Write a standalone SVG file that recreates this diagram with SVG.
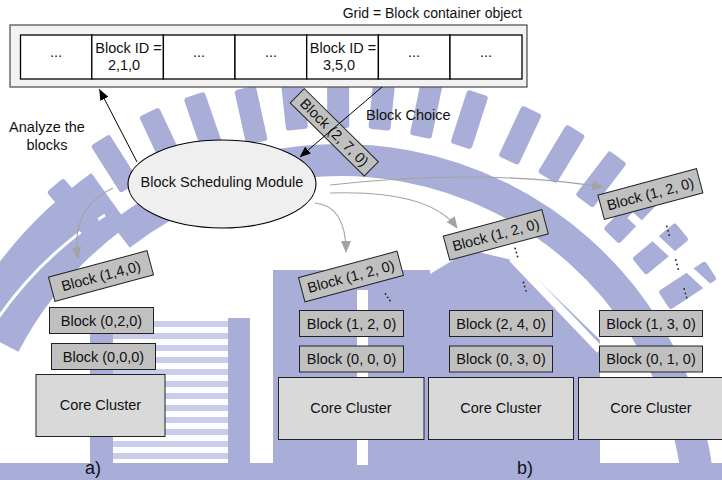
<svg xmlns="http://www.w3.org/2000/svg" width="722" height="480" viewBox="0 0 722 480">
<style>
text{font-family:"Liberation Sans",Arial,sans-serif;font-size:14.5px;fill:#111}
.c{text-anchor:middle}
.blk{fill:#c0c0c0;stroke:#222;stroke-width:1}
.core{fill:#d9d9d9;stroke:#222;stroke-width:1}
.cell{fill:#fff;stroke:#000;stroke-width:1.3}
.g{fill:none;stroke:#a3a3a3;stroke-width:1.1}
.k{fill:none;stroke:#000;stroke-width:1}
.dot{fill:#222}
.wm{fill:#a8aed8}
.wl{fill:#c9cdea}
.tooth{fill:#a8aed8}
</style>
<defs>
<marker id="ga" viewBox="0 0 12 10" refX="11" refY="5" markerWidth="12" markerHeight="10" markerUnits="userSpaceOnUse" orient="auto"><path d="M0,0 L12,5 L0,10 Z" fill="#a3a3a3"/></marker>
<marker id="ka" viewBox="0 0 11 9" refX="10.5" refY="4.5" markerWidth="11" markerHeight="9" markerUnits="userSpaceOnUse" orient="auto"><path d="M0,0 L11,4.5 L0,9 Z" fill="#000"/></marker>
<rect id="tt" x="-11" y="0" width="22" height="56" rx="3"/>
</defs>
<rect width="722" height="480" fill="#fff"/>

<g id="watermark">
<path d="M120,235 A360,360 0 0 1 700,520" fill="none" stroke="#a8aed8" stroke-width="32"/>
<path d="M-10,337 A395,395 0 0 1 110,199" fill="none" stroke="#a8aed8" stroke-width="64"/>
<path d="M-10,330 A385,385 0 0 1 105,215" fill="none" stroke="#fff" stroke-width="3"/>
<g class="tooth">
<use href="#tt" transform="translate(55,185) rotate(-40.4)"/>
<use href="#tt" transform="translate(100,140) rotate(-32.3)"/>
<use href="#tt" transform="translate(149,112) rotate(-25.1)"/>
<use href="#tt" transform="translate(194,95) rotate(-19)"/>
<use href="#tt" transform="translate(245,88) rotate(-12.4)"/>
<use href="#tt" transform="translate(291,74) rotate(-6.3)"/>
<use href="#tt" transform="translate(338,72) rotate(-0.3)"/>
<use href="#tt" transform="translate(385,74) rotate(5.8)"/>
<use href="#tt" transform="translate(432,82) rotate(11.8)"/>
<use href="#tt" transform="translate(478,93) rotate(17.9)"/>
<use href="#tt" transform="translate(532,110) rotate(25.1)"/>
<use href="#tt" transform="translate(576,130) rotate(31.2)"/>
<use href="#tt" transform="translate(618,157) rotate(37.4)"/>
<use href="#tt" transform="translate(650,196) rotate(43.9)"/>
<use href="#tt" transform="translate(682,231) rotate(50.3)"/>
<use href="#tt" transform="translate(711,270) rotate(56.8)"/>
</g>
<rect class="wm" x="90" y="318" width="23" height="162"/>
<rect class="wm" x="228" y="318" width="22" height="162"/>
<g class="wl">
<rect x="113" y="321" width="115" height="6"/>
<rect x="113" y="333" width="115" height="6"/>
<rect x="113" y="345" width="115" height="6"/>
<rect x="113" y="357" width="115" height="6"/>
<rect x="113" y="369" width="115" height="6"/>
<rect x="113" y="381" width="115" height="6"/>
<rect x="113" y="393" width="115" height="6"/>
<rect x="113" y="405" width="115" height="6"/>
<rect x="113" y="417" width="115" height="6"/>
<rect x="113" y="429" width="115" height="6"/>
<rect x="113" y="441" width="115" height="6"/>
<rect x="113" y="453" width="115" height="6"/>
</g>
<rect class="wm" x="0" y="463" width="722" height="17"/>
<rect class="wm" x="273" y="270" width="157" height="210"/>
<rect x="357" y="290" width="11" height="175" fill="#fff"/>
<path class="wm" d="M420,280 L470,250 L520,262 L600,340 L600,480 L420,480 Z"/>
<path d="M512,258 L600,350" stroke="#fff" stroke-width="8"/>
<path d="M630,215 L722,300" stroke="#fff" stroke-width="8"/>
</g>

<g id="grid-label"><text x="522" y="18" style="text-anchor:end;font-size:14px">Grid = Block container object</text></g>

<g id="grid">
<rect x="10" y="25" width="517" height="62" fill="#f2f2f2" stroke="#555" stroke-width="1.3"/>
<rect class="cell" x="20.5" y="35" width="71.3" height="44"/>
<rect class="cell" x="91.8" y="35" width="71.6" height="44"/>
<rect class="cell" x="163.4" y="35" width="71.6" height="44"/>
<rect class="cell" x="235" y="35" width="71.7" height="44"/>
<rect class="cell" x="306.7" y="35" width="71.7" height="44"/>
<rect class="cell" x="378.4" y="35" width="71.6" height="44"/>
<rect class="cell" x="450" y="35" width="72" height="44"/>
<text class="c" x="56" y="57">...</text>
<text class="c" x="128.5" y="53">Block ID =</text>
<text class="c" x="124" y="70">2,1,0</text>
<text class="c" x="199" y="57">...</text>
<text class="c" x="271" y="57">...</text>
<text class="c" x="343" y="53">Block ID =</text>
<text class="c" x="339" y="70">3,5,0</text>
<text class="c" x="414" y="57">...</text>
<text class="c" x="486" y="57">...</text>
</g>

<g id="analyze-label"><text class="c" x="47" y="132">Analyze the</text><text class="c" x="47" y="150">blocks</text></g>
<g id="choice-label"><text x="366" y="120">Block Choice</text></g>

<g id="module">
<ellipse cx="222" cy="184" rx="94" ry="44" fill="#efefef" stroke="#000" stroke-width="1.1"/>
<text class="c" x="222" y="187">Block Scheduling Module</text>
</g>

<g id="block-270" transform="translate(334.3,132.3) rotate(44.6)">
<rect class="blk" x="-52" y="-10" width="104" height="20"/>
<text class="c" x="0" y="5">Block (2, 7, 0)</text>
</g>

<g id="a-col">
<g id="a-b140" transform="translate(101,276) rotate(-15)"><rect class="blk" x="-51" y="-12.5" width="102" height="25"/><text class="c" x="0" y="5">Block (1,4,0)</text></g>
<g id="a-b020"><rect class="blk" x="49.5" y="307.5" width="104" height="26"/><text class="c" x="101.5" y="325.5">Block (0,2,0)</text></g>
<g id="a-b000"><rect class="blk" x="51.5" y="343.5" width="104" height="26"/><text class="c" x="103.5" y="361.5">Block (0,0,0)</text></g>
<g id="a-core"><rect class="core" x="36" y="374.5" width="129" height="62"/><text class="c" x="100.5" y="410">Core Cluster</text></g>
<text x="85" y="474" style="font-size:18px">a)</text>
</g>

<g id="b1-col">
<g id="b1-b120r" transform="translate(351,276.5) rotate(-15)"><rect class="blk" x="-51" y="-12.5" width="102" height="25"/><text class="c" x="0" y="5">Block (1, 2, 0)</text></g>
<circle class="dot" cx="385.5" cy="294" r="0.9"/><circle class="dot" cx="387.7" cy="297.3" r="0.9"/><circle class="dot" cx="390" cy="300.5" r="0.9"/>
<g id="b1-b120"><rect class="blk" x="299.5" y="310.5" width="104" height="26"/><text class="c" x="351.5" y="328.5">Block (1, 2, 0)</text></g>
<g id="b1-b000"><rect class="blk" x="299.5" y="346" width="104" height="26"/><text class="c" x="351.5" y="364">Block (0, 0, 0)</text></g>
<g id="b1-core"><rect class="core" x="278.5" y="377.5" width="145.5" height="62"/><text class="c" x="351" y="413">Core Cluster</text></g>
</g>

<g id="b2-col">
<g id="b2-b120r" transform="translate(495.8,234.9) rotate(-15)"><rect class="blk" x="-51" y="-12.5" width="102" height="25"/><text class="c" x="0" y="5">Block (1, 2, 0)</text></g>
<circle class="dot" cx="515.2" cy="248.5" r="0.9"/><circle class="dot" cx="516.3" cy="252.5" r="0.9"/><circle class="dot" cx="517.5" cy="256.5" r="0.9"/>
<circle class="dot" cx="523.5" cy="282.5" r="0.9"/><circle class="dot" cx="524.7" cy="286.5" r="0.9"/><circle class="dot" cx="526" cy="290.8" r="0.9"/>
<g id="b2-b240"><rect class="blk" x="449.5" y="310.5" width="103" height="26"/><text class="c" x="501" y="328.5">Block (2, 4, 0)</text></g>
<g id="b2-b030"><rect class="blk" x="449.5" y="346" width="103" height="26"/><text class="c" x="501" y="364">Block (0, 3, 0)</text></g>
<g id="b2-core"><rect class="core" x="428.5" y="377.5" width="145" height="62"/><text class="c" x="501" y="413">Core Cluster</text></g>
<text x="517" y="474" style="font-size:18px">b)</text>
</g>

<g id="b3-col">
<g id="b3-b120r" transform="translate(650.4,194) rotate(-15)"><rect class="blk" x="-51" y="-12.5" width="102" height="25"/><text class="c" x="0" y="5">Block (1, 2, 0)</text></g>
<circle class="dot" cx="666.8" cy="226.5" r="0.9"/><circle class="dot" cx="668" cy="230.8" r="0.9"/><circle class="dot" cx="669.2" cy="235" r="0.9"/>
<circle class="dot" cx="675.8" cy="260" r="0.9"/><circle class="dot" cx="677" cy="264.5" r="0.9"/><circle class="dot" cx="678.2" cy="269" r="0.9"/>
<circle class="dot" cx="684.2" cy="289" r="0.9"/><circle class="dot" cx="685.4" cy="293.3" r="0.9"/><circle class="dot" cx="686.6" cy="297.5" r="0.9"/>
<g id="b3-b130"><rect class="blk" x="599.5" y="310.5" width="103" height="26"/><text class="c" x="651" y="328.5">Block (1, 3, 0)</text></g>
<g id="b3-b010"><rect class="blk" x="599.5" y="346" width="103" height="26"/><text class="c" x="651" y="364">Block (0, 1, 0)</text></g>
<g id="b3-core"><rect class="core" x="578.5" y="377.5" width="146" height="62"/><text class="c" x="651" y="413">Core Cluster</text></g>
</g>

<g id="connectors">
<path class="k" d="M137,162 L99.5,89.5" marker-end="url(#ka)"/>
<path class="k" d="M382,87 L300,157" marker-end="url(#ka)"/>
<path class="g" d="M113,188 Q70,208 78,258" marker-end="url(#ga)"/>
<path class="g" d="M315,203 Q346,206 346,252" marker-end="url(#ga)"/>
<path class="g" d="M330,193 Q430,190 457,228" marker-end="url(#ga)"/>
<path class="g" d="M330,185 Q480,168 603,187" marker-end="url(#ga)"/>
</g>
</svg>
